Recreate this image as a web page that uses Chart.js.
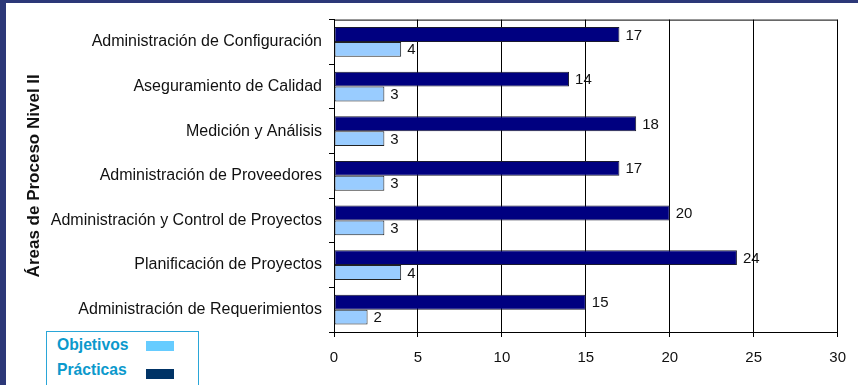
<!DOCTYPE html>
<html lang="es">
<head>
<meta charset="utf-8">
<title>Áreas de Proceso Nivel II</title>
<script src="https://cdn.jsdelivr.net/npm/chart.js@4/dist/chart.umd.min.js"></script>
<style>
  html, body { margin: 0; padding: 0; }
  body {
    width: 858px;
    height: 385px;
    overflow: hidden;
    background: #2c3878;
    position: relative;
    font-family: "Liberation Sans", Arial, sans-serif;
  }
  #panel {
    position: absolute;
    left: 6px;
    top: 3px;
    width: 852px;
    height: 382px;
    background: #fff;
  }
  #chart { display: block; }
  #key {
    position: absolute;
    left: 40px;
    top: 328px;
    width: 151px;
    height: 60px;
    border: 1px solid #2aa6d8;
    background: #fff;
    font-weight: bold;
    font-size: 15.7px;
    color: #0b99cc;
  }
  #key .row { position: absolute; left: 10px; }
  #key .sw { position: absolute; left: 99px; width: 28px; height: 10px; }
</style>
</head>
<body>
<div id="panel">
  <canvas id="chart" width="852" height="382"></canvas>
  <div id="key"></div>
</div>
<script>
"use strict";

const areas = [
  "Administración de Configuración",
  "Aseguramiento de Calidad",
  "Medición y Análisis",
  "Administración de Proveedores",
  "Administración y Control de Proyectos",
  "Planificación de Proyectos",
  "Administración de Requerimientos",
];
const practicas = [17, 14, 18, 17, 20, 24, 15];
const objetivos = [4, 3, 3, 3, 3, 4, 2];
const xTicks = [0, 5, 10, 15, 20, 25, 30];

const font = "'Liberation Sans', Arial, sans-serif";

// small legend box in the lower left corner
const key = document.getElementById("key");
[["Objetivos", "#66ccff", 4, 9], ["Prácticas", "#003366", 29, 37]].forEach(([label, color, ty, sy]) => {
  key.insertAdjacentHTML("beforeend",
    `<div class="row" style="top:${ty}px">${label}</div><div class="sw" style="top:${sy}px;background:${color}"></div>`);
});

// value printed at the tip of each bar
const valueLabels = {
  id: "valueLabels",
  afterDatasetsDraw(chart) {
    const ctx = chart.ctx;
    ctx.save();
    ctx.font = `15px ${font}`;
    ctx.fillStyle = "#111";
    ctx.textBaseline = "middle";
    chart.data.datasets.forEach((ds, i) => {
      chart.getDatasetMeta(i).data.forEach((bar, j) => {
        ctx.fillText(String(ds.data[j]), bar.x + 6, bar.y + 1);
      });
    });
    ctx.restore();
  },
};

// black line along the top of the plot area
const frame = {
  id: "frame",
  afterDraw(chart) {
    const { left, top, right } = chart.chartArea;
    const ctx = chart.ctx;
    ctx.save();
    ctx.strokeStyle = "#000";
    ctx.lineWidth = 1;
    ctx.beginPath();
    ctx.moveTo(left, top + 0.5);
    ctx.lineTo(right, top + 0.5);
    ctx.stroke();
    ctx.restore();
  },
};

new Chart(document.getElementById("chart"), {
  type: "bar",
  data: {
    labels: areas,
    datasets: [
      {
        label: "Prácticas",
        data: practicas,
        backgroundColor: "#000080",
        borderColor: "#1a1a2e",
        borderWidth: 1,
        borderSkipped: false,
        categoryPercentage: 0.667,
        barPercentage: 1,
      },
      {
        label: "Objetivos",
        data: objetivos,
        backgroundColor: "#99ccff",
        borderColor: "#222",
        borderWidth: 1,
        borderSkipped: false,
        categoryPercentage: 0.667,
        barPercentage: 1,
      },
    ],
  },
  options: {
    indexAxis: "y",
    responsive: false,
    animation: false,
    layout: { padding: { left: 0, top: 13, right: 17, bottom: 0 } },
    plugins: { legend: { display: false }, tooltip: { enabled: false } },
    scales: {
      x: {
        min: 0,
        max: 30,
        afterBuildTicks: (s) => { s.ticks = xTicks.map((v) => ({ value: v })); },
        afterFit: (s) => { s.height = 53; },
        border: { color: "#000", width: 1 },
        grid: { color: "#000", lineWidth: 1, tickLength: 5 },
        ticks: { color: "#111", padding: 12, font: { family: font, size: 15 } },
      },
      y: {
        afterFit: (s) => { s.width = 328; },
        border: { color: "#000", width: 1 },
        grid: { drawOnChartArea: false, offset: true, color: "#000", tickLength: 5 },
        ticks: { color: "#111", padding: 7, font: { family: font, size: 16 } },
        title: {
          display: true,
          text: "Áreas de Proceso Nivel II",
          color: "#111",
          padding: { top: 18, bottom: 0 },
          font: { family: font, size: 17, weight: "bold" },
        },
      },
    },
  },
  plugins: [valueLabels, frame],
});
</script>
</body>
</html>
